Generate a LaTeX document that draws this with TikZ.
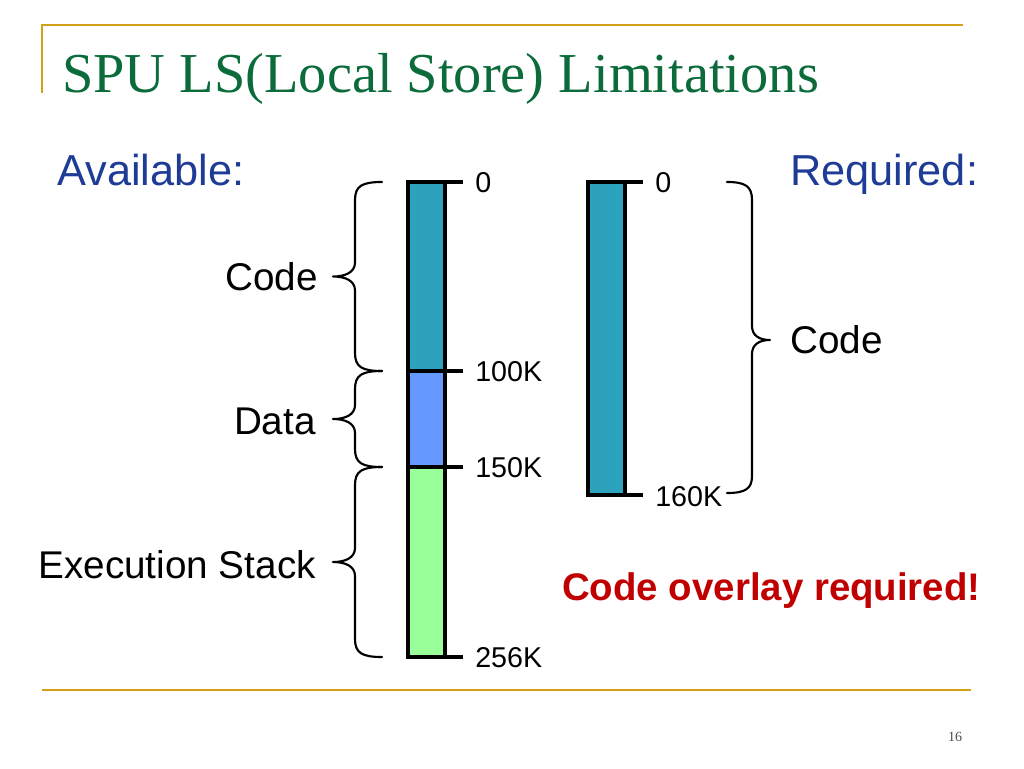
\documentclass[tikz,border=0pt]{standalone}
\usepackage{fontspec}
\setmainfont{Liberation Sans}
\newfontfamily\titlefont{Liberation Serif}
\definecolor{gold}{HTML}{D4A017}
\definecolor{titlegreen}{HTML}{0B6B3A}
\definecolor{hdrblue}{HTML}{1E3C96}
\definecolor{codeteal}{HTML}{2CA2BD}
\definecolor{datablue}{HTML}{6699FF}
\definecolor{stackgreen}{HTML}{99FF99}
\definecolor{alertred}{HTML}{C00000}
\begin{document}
\begin{tikzpicture}[x=0.75pt,y=-0.75pt,
  lbl/.style={font=\fontsize{29}{34}\selectfont, inner sep=0pt},
  ticklbl/.style={font=\fontsize{21.5}{25}\selectfont, inner sep=0pt, anchor=west},
  hdr/.style={font=\fontsize{32.5}{38}\selectfont, text=hdrblue, inner sep=0pt, anchor=base west},
  brc/.style={line width=1.6pt, line join=round, line cap=round},
  barline/.style={line width=2.4pt},
  rule/.style={draw=gold, line width=1.5pt}]
\useasboundingbox (0,0) rectangle (1024,768);
% slide frame rules
\coordinate (rtl) at (42,25);
\coordinate (rtr) at (963,25);
\coordinate (rbl) at (42,93);
\coordinate (rl) at (42,690);
\coordinate (rr) at (971,690);
\draw[rule] (rbl) -- (rtl) -- (rtr);
\draw[rule] (rl) -- (rr);
% title
\node[font=\titlefont\fontsize{42.3}{50}\selectfont, text=titlegreen, anchor=base west, inner sep=0pt] (title) at (62,92) {SPU LS(Local Store) Limitations};
% headers
\node[hdr] (avail) at (57,185) {Available:};
\node[hdr] (req) at (790,185) {Required:};
% left bar
\coordinate (lt) at (408,182);
\coordinate (lb) at (445,657);
\fill[codeteal] (408,182) rectangle (445,371);
\fill[datablue] (408,371) rectangle (445,467);
\fill[stackgreen] (408,467) rectangle (445,657);
\draw[barline] (lt) rectangle (lb);
\coordinate (t0) at (463,182);
\coordinate (t100) at (463,371);
\coordinate (t150) at (463,467);
\coordinate (t256) at (463,657);
\draw[barline] (445,182) -- (t0);
\draw[barline] (408,371) -- (t100);
\draw[barline] (408,467) -- (t150);
\draw[barline] (445,657) -- (t256);
\node[ticklbl] (l0) at (475,183) {0};
\node[ticklbl] (l100) at (475,372) {100K};
\node[ticklbl] (l150) at (475,468) {150K};
\node[ticklbl] (l256) at (475,658) {256K};
% right bar
\fill[codeteal] (588,182) rectangle (625,495);
\draw[barline] (588,182) rectangle (625,495);
\coordinate (r0) at (643,182);
\coordinate (r160) at (643,495);
\draw[barline] (625,182) -- (r0);
\draw[barline] (625,495) -- (r160);
\node[ticklbl] (rl0) at (655,183) {0};
\node[ticklbl] (rl160) at (655,497) {160K};
% left braces
\foreach \ya/\yb in {182/371, 371/467, 467/657}{
  \pgfmathsetmacro{\ym}{(\ya+\yb)/2}
  \draw[brc] (382,\ya) .. controls (362,\ya) and (355,\ya+4) .. (355,\ya+18)
     -- (355,\ym-14) .. controls (355,\ym-4) and (345,\ym) .. (333,\ym)
     .. controls (345,\ym) and (355,\ym+4) .. (355,\ym+14)
     -- (355,\yb-18) .. controls (355,\yb-4) and (362,\yb) .. (382,\yb);
}
% right brace
\draw[brc] (727,182) .. controls (745,182) and (752,186) .. (752,200)
   -- (752,326) .. controls (752,336) and (760,340) .. (770,340)
   .. controls (760,340) and (752,344) .. (752,354)
   -- (752,476) .. controls (752,489) and (745,493) .. (727,493);
% labels
\node[lbl, anchor=east] (code) at (318,277) {Code};
\node[lbl, anchor=east] (data) at (316,421) {Data};
\node[lbl, anchor=east] (stack) at (316,565) {Execution Stack};
\node[lbl, anchor=west] (rcode) at (790,340) {Code};
\node[font=\fontsize{28.8}{34}\selectfont\bfseries, text=alertred, anchor=base west, inner sep=0pt] (alert) at (562,600) {Code overlay required!};
% page number
\node[font=\titlefont\fontsize{10.5}{12}\selectfont, text=black!70, inner sep=0pt] (pg) at (955,737) {16};
\end{tikzpicture}
\end{document}
